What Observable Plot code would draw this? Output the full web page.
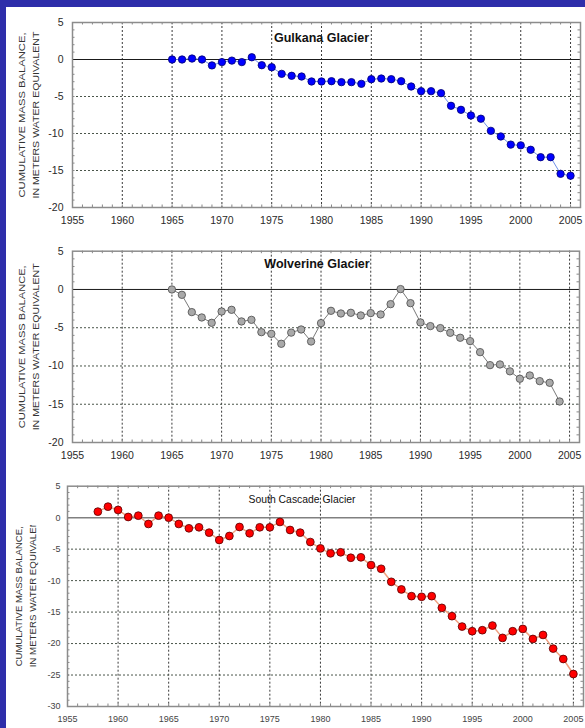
<!DOCTYPE html>
<html><head><meta charset="utf-8">
<script src="https://cdn.jsdelivr.net/npm/d3@7"></script>
<script src="https://cdn.jsdelivr.net/npm/@observablehq/plot@0.6"></script>
<style>
body{margin:0;}
#page{position:relative;width:585px;height:728px;background:#2e2eaa;overflow:hidden;font-family:"Liberation Sans",Arial,sans-serif;}
#white{position:absolute;left:6px;top:7px;right:0;bottom:0;background:#fff;}
.panel{position:absolute;left:0;}
.panel svg{background:transparent;overflow:visible;}
</style></head><body><div id="page"><div id="white"></div></div>
<script>
const yLabelLine1 = "CUMULATIVE MASS BALANCE,";
const yLabelLine2 = "IN METERS WATER EQUIVALENT";
const xTicks = [1955, 1960, 1965, 1970, 1975, 1980, 1985, 1990, 1995, 2000, 2005];
const yTicksAlaska = [5, 0, -5, -10, -15, -20];
const yTicksCascade = [5, 0, -5, -10, -15, -20, -25, -30];

const gulkanaTitle = "Gulkana Glacier";
const gulkanaStart = 1965;
const gulkanaValues = [0, 0, 0.13, 0, -0.8, -0.35, -0.15, -0.35, 0.3, -0.77, -1.04, -1.94, -2.2, -2.3, -2.97, -2.97, -2.93, -3.06, -3.06, -3.29, -2.66, -2.57, -2.66, -2.93, -3.65, -4.28, -4.28, -4.55, -6.26, -6.8, -7.57, -8.0, -9.64, -10.4, -11.5, -11.6, -12.2, -13.2, -13.2, -15.45, -15.7];

const wolverineTitle = "Wolverine Glacier";
const wolverineStart = 1965;
const wolverineValues = [0, -0.7, -2.96, -3.66, -4.36, -2.88, -2.66, -4.18, -3.97, -5.58, -5.8, -7.1, -5.64, -5.23, -6.8, -4.4, -2.79, -3.14, -3.05, -3.4, -3.09, -3.27, -1.92, 0.05, -1.79, -4.31, -4.79, -5.05, -5.66, -6.31, -6.75, -8.19, -9.89, -9.8, -10.7, -11.67, -11.24, -11.98, -12.2, -14.64];

const cascadeTitle = "South Cascade Glacier";
const cascadeStart = 1958;
const cascadeValues = [0.96, 1.75, 1.23, 0.11, 0.32, -1.0, 0.32, 0, -1.0, -1.69, -1.53, -2.38, -3.55, -2.91, -1.48, -2.48, -1.53, -1.53, -0.68, -1.96, -2.38, -3.87, -4.88, -5.67, -5.5, -6.37, -6.3, -7.53, -8.12, -10.19, -11.4, -12.47, -12.57, -12.47, -14.33, -15.65, -17.3, -18.04, -17.88, -17.14, -19.1, -18.04, -17.67, -19.27, -18.63, -20.8, -22.45, -24.84];

function series(start, values) {
  return values.map((v, i) => ({year: start + i, value: v}));
}

function panel(cfg) {
  const W = 585;
  const data = series(cfg.start, cfg.values);
  const yMin = cfg.yDomain[0], yMax = cfg.yDomain[1];
  const ph = cfg.height - cfg.mt - cfg.mb;
  const pw = W - cfg.ml - cfg.mr;
  const minorX = d3.range(1956, 2006);
  const minorY = d3.range(yMin + 1, yMax);
  const gridY = cfg.yTicks.filter(d => d !== 0 && d !== yMin && d !== yMax);
  const svg = Plot.plot({
    width: W, height: cfg.height,
    marginTop: cfg.mt, marginBottom: cfg.mb, marginLeft: cfg.ml, marginRight: cfg.mr,
    style: {background: "transparent", fontFamily: '"Liberation Sans", Arial, sans-serif', fontSize: cfg.tickFont + "px", color: cfg.tickColor},
    x: {domain: [1955, 2006], ticks: xTicks, tickSize: 0, tickPadding: cfg.xPad, tickFormat: d => String(d), label: null},
    y: {domain: cfg.yDomain, ticks: cfg.yTicks, tickSize: 0, tickPadding: cfg.yPad, tickFormat: d => String(d), label: null},
    marks: [
      Plot.ruleX(xTicks.slice(1), {stroke: "#3a3a3a", strokeWidth: 1, strokeDasharray: "2,2"}),
      Plot.ruleY(gridY, {stroke: "#4a554a", strokeWidth: 1, strokeDasharray: "2,2"}),
      Plot.tickX(minorX, {x: d => d, insetTop: ph - 2.5, stroke: "#888"}),
      Plot.tickX(minorX, {x: d => d, insetBottom: ph - 2.5, stroke: "#888"}),
      Plot.tickY(minorY, {y: d => d, insetRight: pw - 2.5, stroke: "#888"}),
      Plot.tickY(minorY, {y: d => d, insetLeft: pw - 2.5, stroke: "#888"}),
      Plot.ruleY([0], {stroke: cfg.zeroColor, strokeWidth: cfg.zeroWidth}),
      Plot.frame({stroke: "#8c8c8c", strokeWidth: 1.5}),
      Plot.line(data, {x: "year", y: "value", stroke: cfg.lineColor, strokeWidth: cfg.lineWidth}),
      Plot.dot(data, {x: "year", y: "value", r: cfg.r, fill: cfg.fill, stroke: cfg.dotStroke, strokeWidth: 0.8}),
      Plot.text([cfg.title], {text: d => d, frameAnchor: "top", lineAnchor: "middle", dy: cfg.titleDy, dx: cfg.titleDx, fontSize: cfg.titleSize, fontWeight: cfg.titleWeight, fill: "#111"}),
      Plot.text([yLabelLine1], {text: d => d, frameAnchor: "left", textAnchor: "middle", lineAnchor: "middle", rotate: -90, dx: cfg.lab1Dx, dy: cfg.lab1Dy, fontSize: cfg.labSize, fill: "#333"}),
      Plot.text([yLabelLine2], {text: d => d, frameAnchor: "left", textAnchor: "middle", lineAnchor: "middle", rotate: -90, dx: cfg.lab2Dx, dy: cfg.lab2Dy, fontSize: cfg.labSize, fill: "#333"})
    ]
  });
  const s = d3.select(svg);
  const byText = (t) => s.selectAll("text").filter(function() { return this.textContent === t; });
  byText(yLabelLine1).attr("textLength", cfg.lab1Len).attr("lengthAdjust", "spacingAndGlyphs");
  const lab2 = byText(yLabelLine2).attr("textLength", cfg.lab2Len).attr("lengthAdjust", "spacingAndGlyphs");
  if (cfg.clipTop != null && lab2.node()) {
    const id = "clip" + cfg.top;
    s.append("defs").append("clipPath").attr("id", id)
      .append("rect").attr("x", 0).attr("y", cfg.clipTop).attr("width", cfg.ml).attr("height", cfg.height);
    const g = lab2.node().parentNode;
    const wrap = document.createElementNS("http://www.w3.org/2000/svg", "g");
    g.parentNode.insertBefore(wrap, g);
    wrap.appendChild(g);
    wrap.setAttribute("clip-path", `url(#${id})`);
  }
  const div = document.createElement("div");
  div.className = "panel";
  div.style.top = cfg.top + "px";
  div.appendChild(svg);
  document.getElementById("page").appendChild(div);
}

panel({top: 0, height: 240, mt: 22, mb: 33, ml: 72, mr: 5, yDomain: [-20, 5], yTicks: yTicksAlaska,
  start: gulkanaStart, values: gulkanaValues, title: gulkanaTitle, titleDy: 15.7, titleDx: -5, titleSize: 12.5, titleWeight: "bold",
  tickFont: 10.5, tickColor: "#2a2a2a", xPad: 9, yPad: 9, r: 3.7,
  fill: "#0000ff", dotStroke: "#000070", lineColor: "#7090e8", lineWidth: 1, zeroColor: "#1a1a1a", zeroWidth: 1,
  lab1Dx: -50.3, lab1Dy: 0, lab2Dx: -37, lab2Dy: 0, labSize: 9.5, lab1Len: 165, lab2Len: 167});

panel({top: 230, height: 240, mt: 20.7, mb: 28, ml: 72, mr: 6, yDomain: [-20, 5], yTicks: yTicksAlaska,
  start: wolverineStart, values: wolverineValues, title: wolverineTitle, titleDy: 12.3, titleDx: -9, titleSize: 12.5, titleWeight: "bold",
  tickFont: 10.5, tickColor: "#2a2a2a", xPad: 9, yPad: 9, r: 3.7,
  fill: "#a9a9a9", dotStroke: "#4a4a4a", lineColor: "#7a7a7a", lineWidth: 1, zeroColor: "#1a1a1a", zeroWidth: 1,
  lab1Dx: -50.3, lab1Dy: 0, lab2Dx: -37, lab2Dy: 0, labSize: 9.5, lab1Len: 163, lab2Len: 167});

panel({top: 470, height: 258, mt: 15.7, mb: 22, ml: 67, mr: 2, yDomain: [-30, 5], yTicks: yTicksCascade,
  start: cascadeStart, values: cascadeValues, title: cascadeTitle, titleDy: 13.3, titleDx: -23.5, titleSize: 10.4, titleWeight: "normal",
  tickFont: 9, tickColor: "#444", xPad: 9, yPad: 7, r: 3.9,
  fill: "#ff0000", dotStroke: "#550000", lineColor: "#f0a080", lineWidth: 1.5, zeroColor: "#808080", zeroWidth: 1.5,
  lab1Dx: -48.7, lab1Dy: 0, lab2Dx: -34, lab2Dy: -5.5, labSize: 8.5, lab1Len: 140, lab2Len: 153, clipTop: 55});
</script>
</body></html>
